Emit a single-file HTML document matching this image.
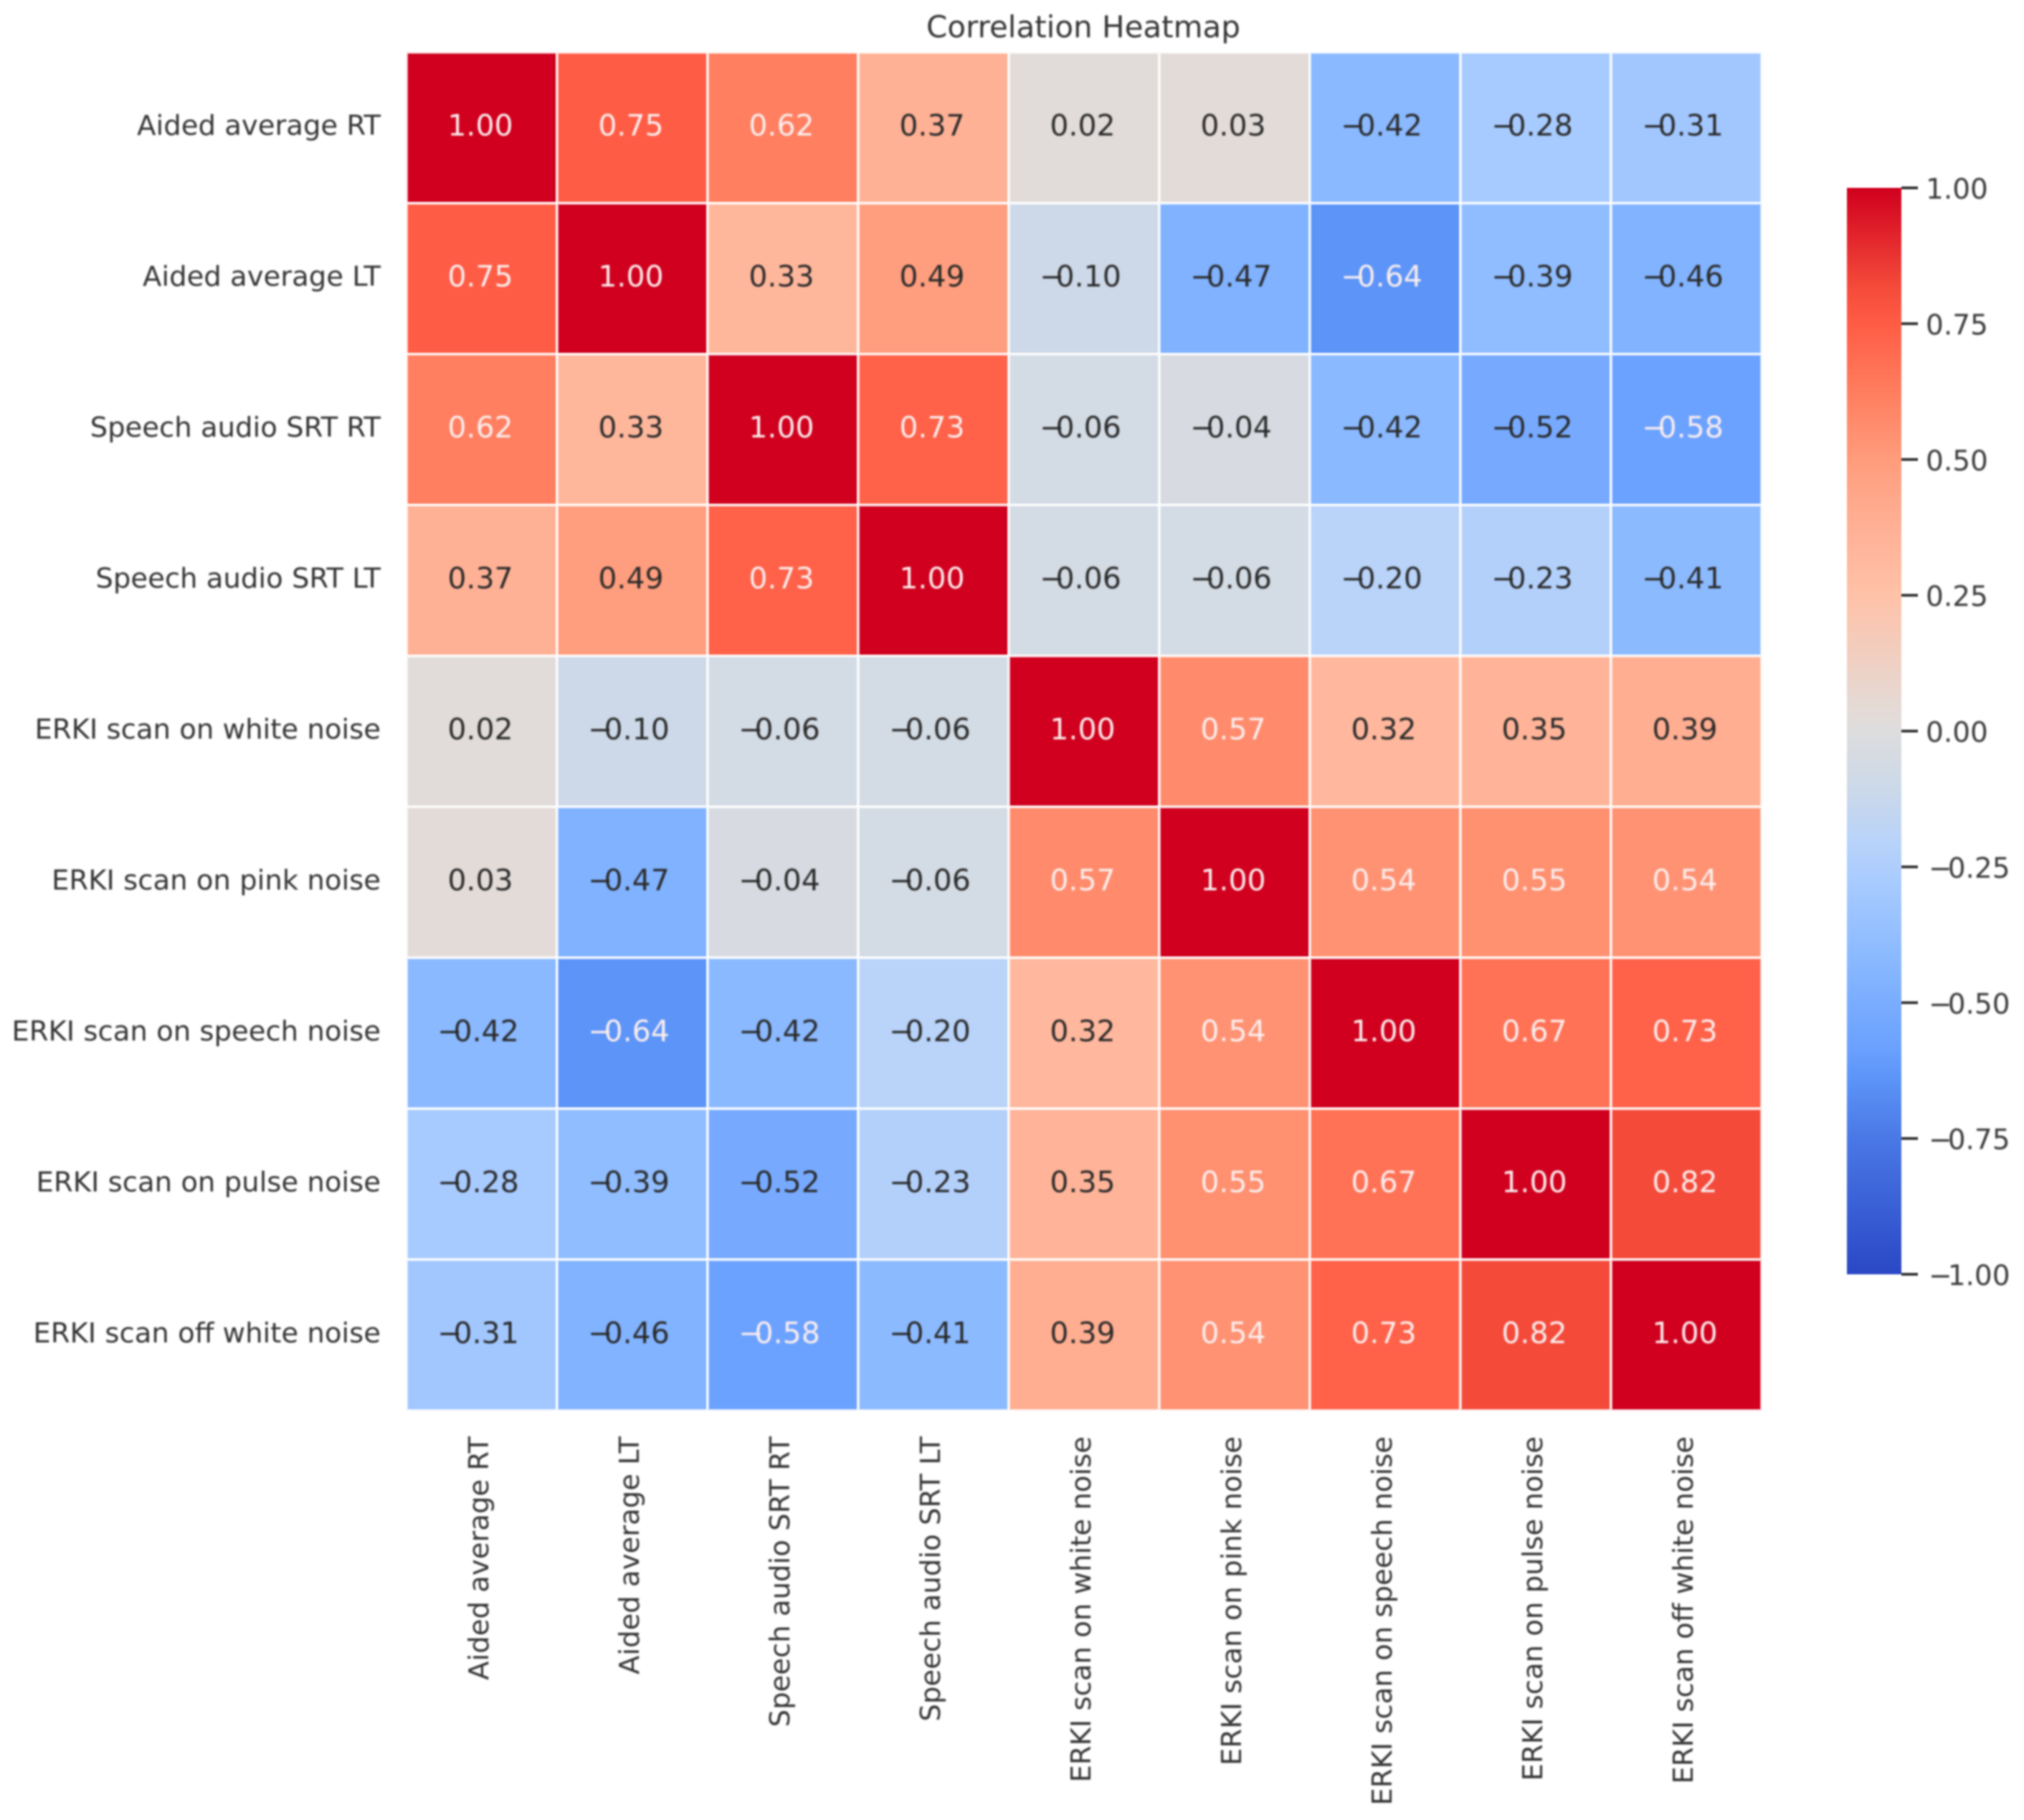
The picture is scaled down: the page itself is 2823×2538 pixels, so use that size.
<!DOCTYPE html>
<html lang="en">
<head>
<meta charset="utf-8">
<title>Correlation Heatmap</title>
<style>
html,body{margin:0;padding:0;background:#fff;}
#chart{display:block;width:2823px;height:2538px;filter:blur(1.1px);}
text{font-family:"DejaVu Sans","Liberation Sans",sans-serif;}
#annos,#ylabels,#xlabels,#chart-title-wrap,#cbar-labels{filter:blur(0.9px);}
</style>
</head>
<body>
<svg id="chart" xmlns="http://www.w3.org/2000/svg" width="2823" height="2538" viewBox="0 0 2823 2538">
<rect x="0" y="0" width="2823" height="2538" fill="#ffffff"/>
<g id="chart-title-wrap">
<text x="1511" y="52" text-anchor="middle" font-size="42" fill="#333333">Correlation Heatmap</text>
</g>
<g id="cells"></g>
<g id="annos"></g>
<g id="ylabels"></g>
<g id="xlabels"></g>
<g id="cbar"></g>
<g id="cbar-labels"></g>
</svg>
<script>
const categories = ["Aided average RT","Aided average LT","Speech audio SRT RT","Speech audio SRT LT","ERKI scan on white noise","ERKI scan on pink noise","ERKI scan on speech noise","ERKI scan on pulse noise","ERKI scan off white noise"];
const row0 = [1.00,0.75,0.62,0.37,0.02,0.03,-0.42,-0.28,-0.31];
const row1 = [0.75,1.00,0.33,0.49,-0.10,-0.47,-0.64,-0.39,-0.46];
const row2 = [0.62,0.33,1.00,0.73,-0.06,-0.04,-0.42,-0.52,-0.58];
const row3 = [0.37,0.49,0.73,1.00,-0.06,-0.06,-0.20,-0.23,-0.41];
const row4 = [0.02,-0.10,-0.06,-0.06,1.00,0.57,0.32,0.35,0.39];
const row5 = [0.03,-0.47,-0.04,-0.06,0.57,1.00,0.54,0.55,0.54];
const row6 = [-0.42,-0.64,-0.42,-0.20,0.32,0.54,1.00,0.67,0.73];
const row7 = [-0.28,-0.39,-0.52,-0.23,0.35,0.55,0.67,1.00,0.82];
const row8 = [-0.31,-0.46,-0.58,-0.41,0.39,0.54,0.73,0.82,1.00];
const matrix = [row0,row1,row2,row3,row4,row5,row6,row7,row8];
const colorbarTicks = [1.00,0.75,0.50,0.25,0.00,-0.25,-0.50,-0.75,-1.00];

const NS = "http://www.w3.org/2000/svg";
const gridLeft = 567, gridRight = 2457, gridTop = 73, gridBottom = 1967;
const cbarLeft = 2576, cbarRight = 2652, cbarTop = 262, cbarBottom = 1777;

const colorStops = [
  [-1.00,[42,72,197]],[-0.75,[74,120,230]],[-0.64,[92,148,248]],[-0.58,[108,162,255]],
  [-0.50,[122,173,255]],[-0.42,[138,185,255]],[-0.28,[168,203,255]],[-0.20,[185,211,249]],
  [-0.10,[205,217,232]],[0.00,[221,221,221]],[0.03,[227,219,216]],[0.25,[255,194,168]],
  [0.37,[255,177,150]],[0.50,[255,156,124]],[0.62,[255,127,96]],[0.75,[255,92,69]],
  [0.82,[244,74,58]],[1.00,[208,0,30]]
];
function colorOf(v){
  const t = Math.max(-1, Math.min(1, v));
  for(let i = 1; i < colorStops.length; i++){
    if(t <= colorStops[i][0]){
      const a = colorStops[i-1], b = colorStops[i];
      const f = (t - a[0]) / (b[0] - a[0]);
      const c = a[1].map((p, k) => Math.round(p + (b[1][k] - p) * f));
      return "rgb(" + c.join(",") + ")";
    }
  }
  return "rgb(208,0,30)";
}
function xScale(i){ return gridLeft + i * (gridRight - gridLeft) / categories.length; }
function yScale(i){ return gridTop + i * (gridBottom - gridTop) / categories.length; }
function cbarY(v){ return cbarTop + (1 - v) / 2 * (cbarBottom - cbarTop); }
function make(tag, attrs){
  const el = document.createElementNS(NS, tag);
  for(const k in attrs){ el.setAttribute(k, attrs[k]); }
  return el;
}
function useWhite(v){ return v >= 0.54 || v <= -0.55; }
function fillNumber(t, v, gap){
  const body = Math.abs(v).toFixed(2);
  if(v < 0){
    t.appendChild(document.createTextNode("\u2212"));
    const s = make("tspan", {dx:gap});
    s.textContent = body;
    t.appendChild(s);
  } else {
    t.textContent = body;
  }
}

const cellsG = document.getElementById("cells");
const annosG = document.getElementById("annos");
matrix.forEach((row, r) => {
  row.forEach((v, c) => {
    const rect = make("rect", {x:xScale(c), y:yScale(r), width:xScale(c+1)-xScale(c), height:yScale(r+1)-yScale(r), fill:colorOf(v), stroke:"#ffffff", "stroke-width":3.8, "stroke-opacity":0.78});
    
    
    cellsG.appendChild(rect);
    const cx = (xScale(c)+xScale(c+1))/2 + (v < 0 ? -5 : -2);
    const t = make("text", {x:cx, y:(yScale(r)+yScale(r+1))/2 + 11, "text-anchor":"middle", "font-size":41, fill:useWhite(v) ? "#fbeeee" : "#2a2a2a"});
    
    
    fillNumber(t, v, -12);
    annosG.appendChild(t);
  });
});

const yG = document.getElementById("ylabels");
const xG = document.getElementById("xlabels");
categories.forEach((name, i) => {
  const yl = make("text", {x:531, y:(yScale(i)+yScale(i+1))/2 + 10, "text-anchor":"end", "font-size":38.6, fill:"#333333"});
  
  
  yl.textContent = name;
  yG.appendChild(yl);
  const bx = (xScale(i)+xScale(i+1))/2 + 9;
  const xl = make("text", {x:0, y:0, transform:"translate(" + bx + ",2003) rotate(-90)", "text-anchor":"end", "font-size":38.6, fill:"#333333"});
  
  
  xl.textContent = name;
  xG.appendChild(xl);
});

const cbarG = document.getElementById("cbar");
const cbarLabelG = document.getElementById("cbar-labels");
const defs = make("defs", {});
const grad = make("linearGradient", {id:"cbarGradient", x1:0, y1:0, x2:0, y2:1});
colorStops.slice().reverse().forEach(s => {
  grad.appendChild(make("stop", {offset:((1 - s[0]) / 2 * 100) + "%", "stop-color":colorOf(s[0])}));
});
defs.appendChild(grad);
cbarG.appendChild(defs);
const bar = make("rect", {x:cbarLeft, y:cbarTop, width:cbarRight-cbarLeft, height:cbarBottom-cbarTop, fill:"url(#cbarGradient)"});


cbarG.appendChild(bar);
colorbarTicks.forEach(v => {
  const y = cbarY(v);
  const tick = make("rect", {x:cbarRight, y:y-2, width:23, height:4, fill:"#3a3a3a"});
  
  
  cbarG.appendChild(tick);
  const lab = make("text", {x:v < 0 ? 2690 : 2686, y:y+15, "font-size":39, fill:"#3a3a3a"});
  
  
  fillNumber(lab, v, -6);
  cbarLabelG.appendChild(lab);
});
</script>
</body>
</html>
